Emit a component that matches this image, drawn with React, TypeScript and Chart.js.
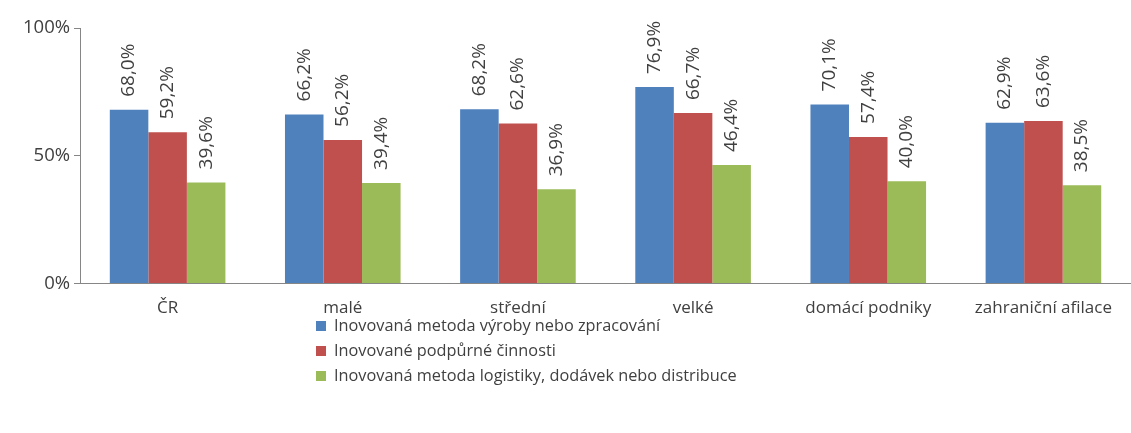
import React, { useEffect, useRef } from "react";
import { Chart, registerables } from "chart.js";

Chart.register(...registerables);

const categories = ["ČR", "malé", "střední", "velké", "domácí podniky", "zahraniční afilace"];
const seriesNames = [
  "Inovovaná metoda výroby nebo zpracování",
  "Inovované podpůrné činnosti",
  "Inovovaná metoda logistiky, dodávek nebo distribuce",
];
const blueValues = [68.0, 66.2, 68.2, 76.9, 70.1, 62.9];
const redValues = [59.2, 56.2, 62.6, 66.7, 57.4, 63.6];
const greenValues = [39.6, 39.4, 36.9, 46.4, 40.0, 38.5];
const yTicks = [0, 50, 100];
const colors = ["#4F81BD", "#C0504D", "#9BBB59"];

const FONT = "'Open Sans', sans-serif";

const labelPlugin = {
  id: "barLabels",
  afterDatasetsDraw(chart: any) {
    const ctx = chart.ctx;
    ctx.save();
    ctx.font = `19px ${FONT}`;
    ctx.fillStyle = "#404040";
    ctx.textAlign = "left";
    ctx.textBaseline = "middle";
    chart.data.datasets.forEach((ds: any, i: number) => {
      const meta = chart.getDatasetMeta(i);
      meta.data.forEach((bar: any, j: number) => {
        const v = ds.data[j];
        const txt = v.toFixed(1).replace(".", ",") + "%";
        ctx.save();
        ctx.translate(bar.x, bar.y - 13);
        ctx.rotate(-Math.PI / 2);
        ctx.fillText(txt, 0, 0);
        ctx.restore();
      });
    });
    ctx.restore();
  },
};

const legendPlugin = {
  id: "vertLegend",
  afterDraw(chart: any) {
    const ctx = chart.ctx;
    ctx.save();
    ctx.font = `16.3px ${FONT}`;
    ctx.textBaseline = "middle";
    ctx.textAlign = "left";
    const x0 = 316;
    const y0 = 326;
    const dy = 25;
    chart.data.datasets.forEach((ds: any, i: number) => {
      const y = y0 + i * dy;
      ctx.fillStyle = ds.backgroundColor;
      ctx.fillRect(x0, y - 5, 10, 10);
      ctx.fillStyle = "#404040";
      ctx.fillText(ds.label, x0 + 18, y);
    });
    ctx.restore();
  },
};

export default function App() {
  const ref = useRef<HTMLCanvasElement>(null);
  useEffect(() => {
    document.body.style.margin = "0";
    const chart = new Chart(ref.current!, {
      type: "bar",
      data: {
        labels: categories,
        datasets: [blueValues, redValues, greenValues].map((d, i) => ({
          label: seriesNames[i],
          data: d,
          backgroundColor: colors[i],
          borderWidth: 0,
          barPercentage: 1,
          categoryPercentage: 0.66,
        })),
      },
      options: {
        animation: false,
        responsive: false,
        maintainAspectRatio: false,
        layout: { padding: { top: 28, right: 0, left: 19, bottom: 109 } },
        plugins: { legend: { display: false }, tooltip: { enabled: false } },
        scales: {
          x: {
            grid: { display: false },
            border: { display: true, color: "#868686", width: 1 },
            ticks: { color: "#404040", font: { family: FONT, size: 17 }, padding: 6, maxRotation: 0, autoSkip: false },
          },
          y: {
            min: 0,
            max: 100,
            afterBuildTicks: (axis: any) => {
              axis.ticks = yTicks.map((v) => ({ value: v }));
            },
            grid: { drawOnChartArea: false, drawTicks: true, tickLength: 6, color: "#868686" },
            border: { display: true, color: "#868686", width: 1 },
            ticks: {
              color: "#404040",
              font: { family: FONT, size: 18.5 },
              padding: 4,
              callback: (v: any) => v + "%",
            },
          },
        },
      },
      plugins: [labelPlugin, legendPlugin],
    });
    return () => chart.destroy();
  }, []);
  return <canvas ref={ref} width={1131} height={433} style={{ display: "block" }} />;
}
